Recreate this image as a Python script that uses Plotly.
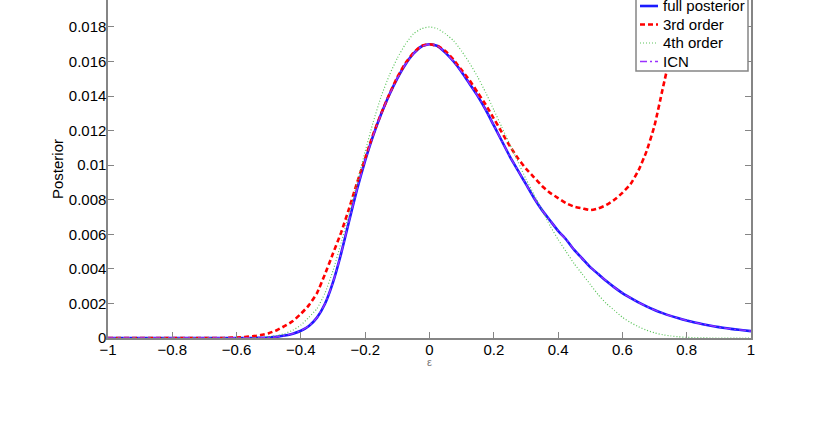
import plotly.graph_objects as go

# --- data ---
eps = [-1.0, -0.975, -0.95, -0.925, -0.9, -0.875, -0.85, -0.825, -0.8, -0.775,
       -0.75, -0.725, -0.7, -0.675, -0.65, -0.625, -0.6, -0.575, -0.55, -0.525,
       -0.5, -0.475, -0.45, -0.425, -0.4, -0.375, -0.35, -0.325, -0.3, -0.275,
       -0.25, -0.225, -0.2, -0.175, -0.15, -0.125, -0.1, -0.075, -0.05, -0.025,
       0.0, 0.025, 0.05, 0.075, 0.1, 0.125, 0.15, 0.175, 0.2, 0.225,
       0.25, 0.275, 0.3, 0.325, 0.35, 0.375, 0.4, 0.425, 0.45, 0.475,
       0.5, 0.525, 0.55, 0.575, 0.6, 0.625, 0.65, 0.675, 0.7, 0.725,
       0.75, 0.775, 0.8, 0.825, 0.85, 0.875, 0.9, 0.925, 0.95, 0.975, 1.0]

full_posterior = [0, 0, 0, 0, 0, 0, 0, 0, 0, 0,
                  0, 0, 0, 0, 0, 0, 0, 0, 0.000004, 0.00001,
                  0.00003, 0.00007, 0.00014, 0.00025, 0.00042, 0.0007, 0.00118, 0.00198, 0.00323, 0.00488,
                  0.00678, 0.00863, 0.01028, 0.01173, 0.01298, 0.01408, 0.01503, 0.01583, 0.01645, 0.01687,
                  0.0170, 0.0169, 0.0165, 0.0160, 0.0154, 0.0147, 0.0140, 0.0132, 0.0123, 0.0114,
                  0.0105, 0.0097, 0.0089, 0.0081, 0.0074, 0.0068, 0.0062, 0.0057, 0.0051, 0.0046,
                  0.0041, 0.0037, 0.0033, 0.00293, 0.0026, 0.00232, 0.00206, 0.00183, 0.00162, 0.00144,
                  0.00128, 0.00114, 0.00101, 0.0009, 0.0008, 0.00071, 0.00063, 0.00056, 0.0005, 0.00045, 0.0004]

third_order = [0, 0, 0, 0, 0, 0, 0, 0, 0, 0,
               0, 0, 0, 0, 0, 0.00001, 0.00003, 0.00006, 0.0001, 0.00017,
               0.00028, 0.00045, 0.0007, 0.00098, 0.0014, 0.0019, 0.0026, 0.0037, 0.0049, 0.0061,
               0.0075, 0.0090, 0.0104, 0.0118, 0.0130, 0.0141, 0.0151, 0.0159, 0.0165, 0.0169,
               0.0170, 0.0169, 0.0166, 0.0161, 0.0155, 0.0149, 0.0142, 0.0135, 0.0127, 0.0119,
               0.0111, 0.0104, 0.0098, 0.0093, 0.0088, 0.0084, 0.0081, 0.0078, 0.0076, 0.0075,
               0.0074, 0.0075, 0.0077, 0.0080, 0.0084, 0.0089, 0.0097, 0.0108, 0.0123, 0.0144,
               0.0165, 0.0195, 0.0230, 0.0270, 0.0320, 0.0380, 0.0450, 0.0530, 0.0630, 0.0750, 0.0900]

fourth_order = [0, 0, 0, 0, 0, 0, 0, 0, 0, 0,
                0, 0, 0, 0, 0, 0, 0, 0, 0.00001, 0.00003,
                0.00007, 0.00014, 0.00026, 0.00045, 0.00075, 0.0012, 0.0017, 0.0026, 0.0039, 0.0055,
                0.0072, 0.0090, 0.0108, 0.0125, 0.0140, 0.0152, 0.0162, 0.0170, 0.0176, 0.0179,
                0.0180, 0.0179, 0.0176, 0.0172, 0.0166, 0.0159, 0.0151, 0.0142, 0.0132, 0.0122,
                0.0112, 0.0102, 0.0092, 0.0083, 0.0074, 0.0065, 0.0057, 0.0050, 0.0043, 0.0037,
                0.0031, 0.0025, 0.0020, 0.0016, 0.0012, 0.0009, 0.00065, 0.00045, 0.0003, 0.00019,
                0.00012, 0.00007, 0.00004, 0.00002, 0.00001, 0, 0, 0, 0, 0, 0]

icn = [0, 0, 0, 0, 0, 0, 0, 0, 0, 0,
       0, 0, 0, 0, 0, 0, 0, 0, 0.000004, 0.00001,
       0.00003, 0.00007, 0.00014, 0.00025, 0.00042, 0.0007, 0.00118, 0.00198, 0.00323, 0.00488,
       0.00678, 0.00863, 0.01028, 0.01173, 0.01298, 0.01408, 0.01503, 0.01583, 0.01645, 0.01687,
       0.0170, 0.0169, 0.0165, 0.0160, 0.0154, 0.0147, 0.0140, 0.0132, 0.0123, 0.0114,
       0.0105, 0.0097, 0.0089, 0.0081, 0.0074, 0.0068, 0.0062, 0.0057, 0.0051, 0.0046,
       0.0041, 0.0037, 0.0033, 0.00293, 0.0026, 0.00232, 0.00206, 0.00183, 0.00162, 0.00144,
       0.00128, 0.00114, 0.00101, 0.0009, 0.0008, 0.00071, 0.00063, 0.00056, 0.0005, 0.00045, 0.0004]

x_ticks = [-1, -0.8, -0.6, -0.4, -0.2, 0, 0.2, 0.4, 0.6, 0.8, 1]
x_ticktext = ["\u22121", "\u22120.8", "\u22120.6", "\u22120.4", "\u22120.2", "0", "0.2", "0.4", "0.6", "0.8", "1"]
y_ticks = [0, 0.002, 0.004, 0.006, 0.008, 0.01, 0.012, 0.014, 0.016, 0.018]
y_ticktext = ["0", "0.002", "0.004", "0.006", "0.008", "0.01", "0.012", "0.014", "0.016", "0.018"]

series_names = ["full posterior", "3rd order", "4th order", "ICN"]
series_values = [full_posterior, third_order, fourth_order, icn]

# --- styles ---
FONT = "Liberation Sans, Arial, Helvetica, sans-serif"
styles = [
    dict(color="#1a1aff", width=2.6, dash="solid"),
    dict(color="#ff0000", width=2.6, dash="5px,3px"),
    dict(color="#5cc45c", width=1.2, dash="1px,2px"),
    dict(color="#9b30ff", width=1.3, dash="7px,3px,2px,3px"),
]

W, H = 830, 425
L, R, T, B = 108, 79, 0, 87
plot_w = W - L - R
plot_h = H - T - B
y_top = 0.001 * plot_h / 17.28

fig = go.Figure()
for name, vals, st in zip(series_names, series_values, styles):
    fig.add_trace(go.Scatter(
        x=eps, y=vals, mode="lines", name=name, showlegend=False,
        line=dict(color=st["color"], width=st["width"], dash=st["dash"],
                  shape="spline", smoothing=0.5),
        hoverinfo="skip",
    ))

axis_gray = "#858585"
fig.update_layout(
    width=W, height=H,
    margin=dict(l=L, r=R, t=T, b=B, autoexpand=False),
    paper_bgcolor="white", plot_bgcolor="white",
    font=dict(family=FONT, size=15, color="black"),
    hovermode=False,
    xaxis=dict(
        range=[-1, 1], tickmode="array", tickvals=x_ticks, ticktext=x_ticktext,
        ticks="inside", ticklen=6, tickwidth=1, tickcolor=axis_gray,
        showline=True, linecolor=axis_gray, linewidth=1.6, mirror=False,
        showgrid=False, zeroline=False, ticklabelstandoff=-3,
        tickfont=dict(family=FONT, size=15, color="black"),
    ),
    yaxis=dict(
        range=[0, y_top], tickmode="array", tickvals=y_ticks, ticktext=y_ticktext,
        ticks="inside", ticklen=6, tickwidth=1, tickcolor=axis_gray,
        showline=True, linecolor=axis_gray, linewidth=1.6, mirror="ticks",
        showgrid=False, zeroline=False, ticklabelstandoff=-3,
        tickfont=dict(family=FONT, size=15, color="black"),
    ),
)

# axis titles
fig.add_annotation(text="Posterior", xref="paper", yref="paper",
                   x=(57 - L) / plot_w, y=0.5, xanchor="center", yanchor="middle",
                   textangle=-90, showarrow=False,
                   font=dict(family=FONT, size=15, color="black"))
fig.add_annotation(text="\u03b5", xref="x", yref="paper",
                   x=0, y=-(362 - plot_h) / plot_h, xanchor="center", yanchor="middle",
                   showarrow=False,
                   font=dict(family=FONT, size=11, color="#777777"))

# legend box (top clipped by the page, like the reference)
def px_x(p):
    return (p - L) / plot_w

def px_y(p):
    return (plot_h - (p - T)) / plot_h

fig.add_shape(type="rect", xref="paper", yref="paper",
              x0=px_x(636), x1=px_x(748), y0=px_y(71), y1=px_y(-20),
              fillcolor="white", line=dict(color=axis_gray, width=1.5), layer="above")
entry_y = [6, 24.5, 43, 61.5]
for name, st, yy in zip(series_names, styles, entry_y):
    fig.add_shape(type="line", xref="paper", yref="paper",
                  x0=px_x(640), x1=px_x(658), y0=px_y(yy), y1=px_y(yy),
                  line=dict(color=st["color"], width=st["width"], dash=st["dash"]),
                  layer="above")
    fig.add_annotation(text=name, xref="paper", yref="paper",
                       x=px_x(661), y=px_y(yy), xanchor="left", yanchor="middle",
                       showarrow=False, font=dict(family=FONT, size=15, color="black"))

fig.write_html("out.html", config={"displayModeBar": False, "staticPlot": True},
               post_script="document.body.style.margin='0';")
